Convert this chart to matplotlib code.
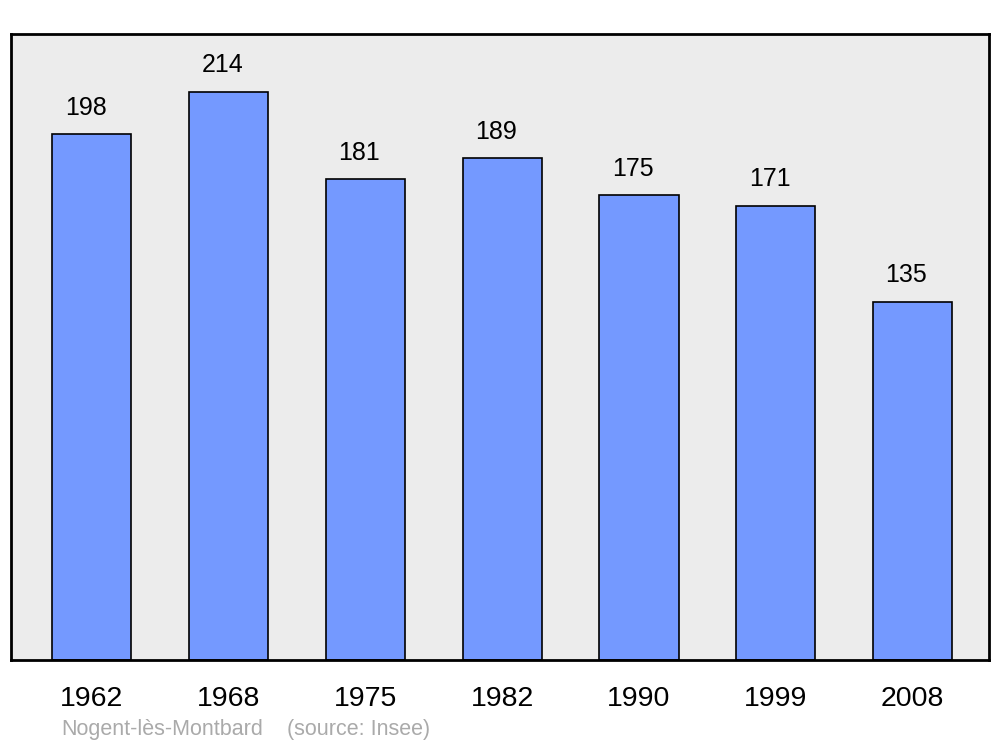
import matplotlib.pyplot as plt
import numpy as np

plt.rcParams['font.family'] = ['Liberation Sans', 'DejaVu Sans']

years = ['1962', '1968', '1975', '1982', '1990', '1999', '2008']
population = [198, 214, 181, 189, 175, 171, 135]

fig = plt.figure(figsize=(10, 7.47), dpi=100)
ax = fig.add_axes([0.011, 0.1165, 0.978, 0.838])
ax.set_facecolor('#ececec')

x = np.arange(len(years))
ax.bar(x, population, width=0.578, color='#7499ff', edgecolor='black', linewidth=1.2, zorder=2)

for xi, v in zip(x, population):
    ax.text(xi - 0.045, v + 5.5, str(v), ha='center', va='bottom', fontsize=18)

ax.set_xlim(-0.592, 6.559)
ax.set_ylim(0, 235.8)
ax.set_xticks(x)
ax.set_xticklabels(years, fontsize=20.5)
ax.tick_params(axis='x', length=0, pad=19)
ax.set_yticks([])
for s in ax.spines.values():
    s.set_linewidth(2)

fig.text(0.061, 0.023, 'Nogent-lès-Montbard', fontsize=15.5, color='#aaaaaa', va='center')
fig.text(0.287, 0.023, '(source: Insee)', fontsize=15.5, color='#aaaaaa', va='center')

fig.savefig('out.png', dpi=100)
